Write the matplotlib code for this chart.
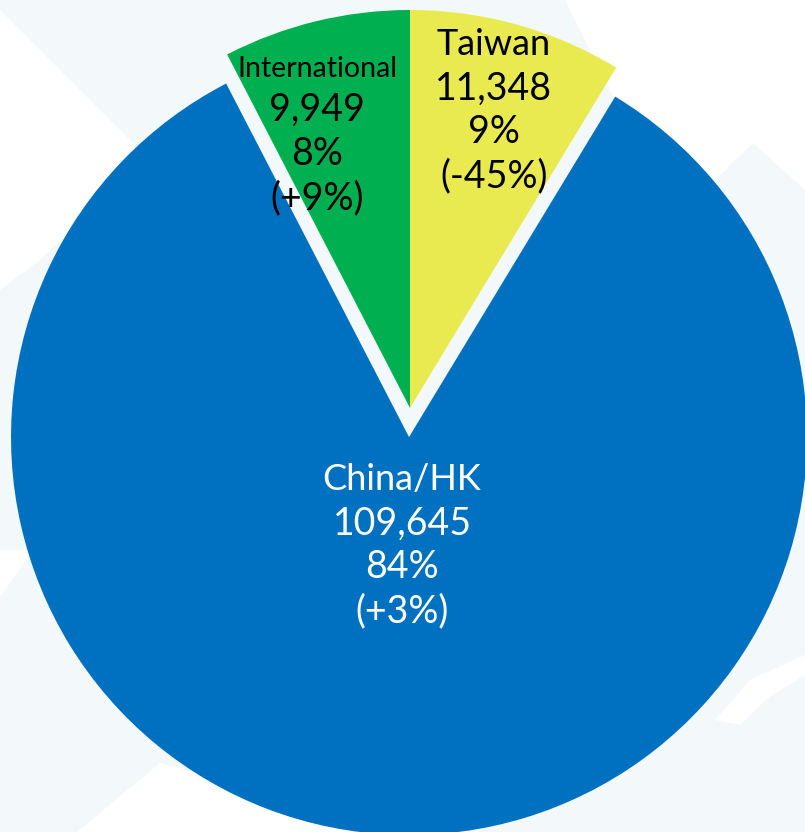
import numpy as np
import matplotlib.pyplot as plt
from matplotlib.patches import Polygon

# Dados do gráfico
regioes = ["Taiwan", "China/HK", "International"]
valores = [11348, 109645, 9949]
percentuais = ["9%", "84%", "8%"]
variacoes = ["(-45%)", "(+3%)", "(+9%)"]

cores = ["#E9EA50", "#0070C0", "#00B050"]
cores_texto = ["black", "white", "black"]
explode = [0, 0.073, 0]

# posicao do bloco de texto: fração do raio e ajuste de angulo
dist_rotulo = [0.75, 0.30, 0.705]
ajuste_ang = [-0.7, -1.4, 5.6]
tam_titulo = [26, 26, 20.5]

W, H = 805, 832
fundo = "#f3f8fb"

fig = plt.figure(figsize=(W / 100, H / 100), dpi=100, facecolor=fundo)
ax = fig.add_axes([0, 0, 1, 1])
ax.set_facecolor(fundo)


def px(pts):
    # converte coordenadas de pixel (y para baixo) em coordenadas do eixo
    return [(x, H - y) for x, y in pts]


# formas decorativas brancas no fundo
formas = [
    [(0, 10), (135, 145), (100, 200), (40, 260), (0, 290)],
    [(565, 0), (805, 0), (805, 190), (753, 143), (690, 205), (640, 150)],
    [(0, 550), (33, 550), (0, 597)],
    [(77, 832), (160, 763), (420, 832)],
    [(715, 720), (750, 680), (805, 655), (805, 675), (765, 700), (740, 725)],
]
for f in formas:
    ax.add_patch(Polygon(px(f), closed=True, facecolor="white", edgecolor="none", zorder=0))

centro = (410, H - 408)
raio = 398

# no matplotlib o explode é em unidades de dados, por isso multiplica pelo raio
wedges, _ = ax.pie(valores, colors=cores, explode=[e * raio for e in explode],
                   startangle=90, counterclock=False, center=centro, radius=raio,
                   wedgeprops=dict(linewidth=0))

fonte = "Lato"
passo = 44
for i, w in enumerate(wedges):
    ang = np.deg2rad((w.theta1 + w.theta2) / 2 + ajuste_ang[i])
    cx, cy = w.center
    bx = cx + dist_rotulo[i] * raio * np.cos(ang)
    by = cy + dist_rotulo[i] * raio * np.sin(ang)
    linhas = [regioes[i], f"{valores[i]:,}", percentuais[i], variacoes[i]]
    for k, txt in enumerate(linhas):
        y = by + 1.5 * passo - k * passo
        ax.text(bx, y, txt, ha="center", va="baseline", color=cores_texto[i],
                fontsize=tam_titulo[i] if k == 0 else 27, family=fonte, zorder=5)

ax.set_xlim(0, W)
ax.set_ylim(0, H)
ax.set_axis_off()

fig.savefig("out.png", dpi=100, facecolor=fundo)
